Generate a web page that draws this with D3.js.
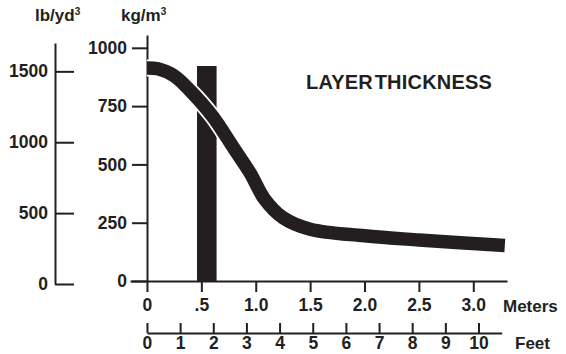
<!DOCTYPE html>
<html>
<head>
<meta charset="utf-8">
<script src="https://cdn.jsdelivr.net/npm/d3@7"></script>
<style>
  body { margin: 0; background: #fff; }
  svg text { font-family: "Liberation Sans", Arial, sans-serif; font-weight: bold; fill: #231f20; }
  .axis path, .axis line { stroke: #231f20; stroke-width: 2; }
</style>
</head>
<body>
<div id="chart"></div>
<script>
// Density profile (meters from surface, kg/m3)
var depthMeters = [0, 0.1, 0.25, 0.4, 0.6, 0.8, 0.95, 1.08, 1.25, 1.5, 2.0, 2.5, 3.29];
var densityKg = [914, 910, 880, 815, 708, 568, 462, 352, 272, 222, 194, 176, 152];

// Layer bar: meter extent and height
var layerMeters = [0.46, 0.64];
var layerDensity = 922;

// Tick values and labels
var kgTicks = [0, 250, 500, 750, 1000];
var lbTicks = [0, 500, 1000, 1500];
var meterTicks = [0, 0.5, 1.0, 1.5, 2.0, 2.5, 3.0];
var meterLabels = ["0", ".5", "1.0", "1.5", "2.0", "2.5", "3.0"];
var feetTicks = [0, 1, 2, 3, 4, 5, 6, 7, 8, 9, 10];

var width = 566, height = 354;
var ink = "#231f20";

var svg = d3.select("#chart").append("svg")
  .attr("width", width)
  .attr("height", height);

// Scales
var x = d3.scaleLinear().domain([-0.156, 3.31]).range([130, 507]);
var xFeet = d3.scaleLinear().domain([0, 10.7]).range([x(0), x(10.7 * 0.3048)]);
var yKg = d3.scaleLinear().domain([0, 1055]).range([281, 35]);
var yLb = d3.scaleLinear().domain([0, 1700]).range([284, 43]);

var styleText = function(g) {
  g.selectAll("text").attr("font-size", 17.5).style("font-family", null);
};

// lb/yd3 axis (ticks point right, labels left)
svg.append("g")
  .attr("class", "axis")
  .attr("transform", "translate(55,0)")
  .call(d3.axisLeft(yLb).tickValues(lbTicks).tickFormat(d3.format("d"))
    .tickSizeInner(-19).tickSizeOuter(0).tickPadding(7))
  .call(styleText);

// kg/m3 axis
svg.append("g")
  .attr("class", "axis")
  .attr("transform", "translate(147,0)")
  .call(d3.axisLeft(yKg).tickValues(kgTicks).tickFormat(d3.format("d"))
    .tickSize(15).tickSizeOuter(0).tickPadding(5))
  .call(styleText);

// Meters axis
svg.append("g")
  .attr("class", "axis")
  .attr("transform", "translate(0,281)")
  .call(d3.axisBottom(x).tickValues(meterTicks).tickSize(11).tickSizeOuter(0).tickPadding(7)
    .tickFormat(function(d, i) { return meterLabels[i]; }))
  .call(styleText);

// Feet axis (ticks point up)
svg.append("g")
  .attr("class", "axis")
  .attr("transform", "translate(0,333)")
  .call(d3.axisBottom(xFeet).tickValues(feetTicks).tickFormat(d3.format("d"))
    .tickSizeInner(-10).tickSizeOuter(0).tickPadding(4))
  .call(styleText);

// Unit labels
var lbLabel = svg.append("text").attr("x", 35).attr("y", 21).attr("font-size", 17);
lbLabel.append("tspan").text("lb/yd");
lbLabel.append("tspan").attr("font-size", 10).attr("dy", -6).text("3");

var kgLabel = svg.append("text").attr("x", 121).attr("y", 21).attr("font-size", 17);
kgLabel.append("tspan").text("kg/m");
kgLabel.append("tspan").attr("font-size", 10).attr("dy", -6).text("3");

svg.append("text").attr("x", 503).attr("y", 312).attr("font-size", 17).text("Meters");
svg.append("text").attr("x", 515).attr("y", 349).attr("font-size", 17).text("Feet");

// Title
svg.append("text")
  .attr("x", 306)
  .attr("y", 89)
  .attr("font-size", 20)
  .attr("letter-spacing", 0.2)
  .attr("word-spacing", -4)
  .text("LAYER THICKNESS");

// Layer bar
svg.append("rect")
  .attr("x", x(layerMeters[0]))
  .attr("y", yKg(layerDensity))
  .attr("width", x(layerMeters[1]) - x(layerMeters[0]))
  .attr("height", yKg(0) - yKg(layerDensity))
  .attr("fill", ink);

// Density curve with white halo
var points = depthMeters.map(function(m, i) { return [m, densityKg[i]]; });
var line = d3.line()
  .x(function(d) { return x(d[0]); })
  .y(function(d) { return yKg(d[1]); })
  .curve(d3.curveCatmullRom.alpha(0.5));

svg.append("path")
  .datum(points)
  .attr("d", line)
  .attr("fill", "none")
  .attr("stroke", "#fff")
  .attr("stroke-width", 17);

svg.append("path")
  .datum(points)
  .attr("d", line)
  .attr("fill", "none")
  .attr("stroke", ink)
  .attr("stroke-width", 13.5);
</script>
</body>
</html>
